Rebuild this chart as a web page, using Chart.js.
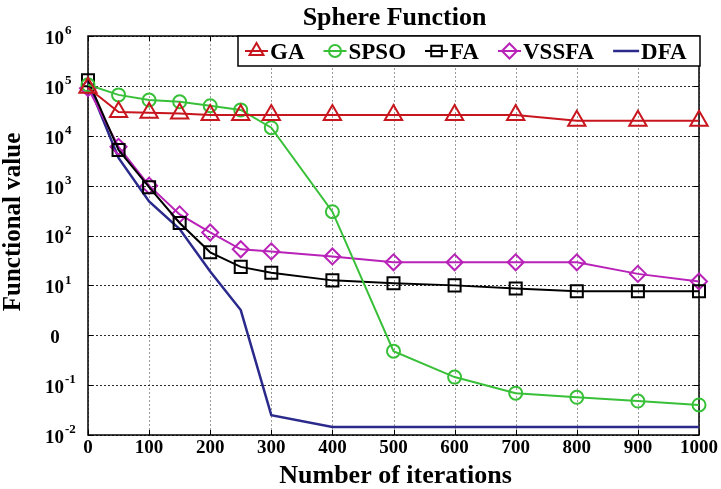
<!DOCTYPE html>
<html>
<head>
<meta charset="utf-8">
<title>Sphere Function</title>
<script src="https://cdn.jsdelivr.net/npm/chart.js@4.4.1/dist/chart.umd.min.js"></script>
<style>
  html, body { margin: 0; padding: 0; background: #fff; }
  #wrap { width: 721px; height: 489px; }
</style>
</head>
<body>
<div id="wrap"><canvas id="sphereChart" width="721" height="489"></canvas></div>
<script>
// Valores (escala log)
const iterations = [0, 50, 100, 150, 200, 250, 300, 400, 500, 600, 700, 800, 900, 1000];
const gaValues = [9.2e4, 3.0e4, 2.9e4, 2.8e4, 2.6e4, 2.6e4, 2.6e4, 2.6e4, 2.6e4, 2.6e4, 2.6e4, 2.0e4, 2.0e4, 2.0e4];
const spsoValues = [1.05e5, 6.6e4, 5.2e4, 4.8e4, 4.0e4, 3.3e4, 1.45e4, 300, 0.48, 0.145, 0.069, 0.057, 0.048, 0.04];
const faValues = [1.3e5, 5200, 930, 178, 46, 23.5, 18, 12.6, 11, 10, 8.7, 7.6, 7.6, 7.6];
const vssfaValues = [9.0e4, 6000, 1000, 265, 115, 53, 48, 38, 29, 29, 29, 29, 17, 12];
const dfaValues = [1.15e5, 3600, 480, 135, 19, 3.2, 0.025, 0.0145, 0.0145, 0.0145, 0.0145, 0.0145, 0.0145, 0.0145];

const seriesNames = ["GA", "SPSO", "FA", "VSSFA", "DFA"];
const yTickValues = [1e-2, 1e-1, 1, 10, 100, 1e3, 1e4, 1e5, 1e6];
const yTickBase = ["10", "10", "0", "10", "10", "10", "10", "10", "10"];
const yTickExp = ["-2", "-1", "", "1", "2", "3", "4", "5", "6"];

const FONT = "'Liberation Serif', 'Times New Roman', serif";

function toPoints(values) {
  return iterations.map((it, i) => ({ x: it, y: values[i] }));
}

const styles = [
  { color: "#c8161e", point: "triangle", radius: 10, legendRadius: 8 },
  { color: "#38c038", point: "circle", radius: 6.5, legendRadius: 6 },
  { color: "#000000", point: "rect", radius: 8.5, legendRadius: 7.5 },
  { color: "#b822b8", point: "rectRot", radius: 8, legendRadius: 7.5 },
  { color: "#2b2a8c", point: false, radius: 0, legendRadius: 0 },
];
const allValues = [gaValues, spsoValues, faValues, vssfaValues, dfaValues];

const datasets = allValues.map((vals, i) => ({
  label: seriesNames[i],
  data: toPoints(vals),
  borderColor: styles[i].color,
  borderWidth: i === 4 ? 2.5 : 2,
  pointStyle: styles[i].point,
  pointRadius: styles[i].radius,
  pointBorderColor: styles[i].color,
  pointBackgroundColor: "rgba(0,0,0,0)",
  pointBorderWidth: 2,
  tension: 0,
  clip: false,
}));

// Grade pontilhada, caixa, rótulos do eixo y, títulos e legenda
const decorations = {
  id: "decorations",
  beforeDatasetsDraw(chart) {
    const { ctx, chartArea: a, scales: { x, y } } = chart;
    ctx.save();
    ctx.lineWidth = 1;
    ctx.setLineDash([2, 2]);
    ctx.strokeStyle = "#9a9a9a";
    x.ticks.forEach((t) => {
      const px = Math.round(x.getPixelForValue(t.value)) + 0.5;
      ctx.beginPath();
      ctx.moveTo(px, a.top); ctx.lineTo(px, a.bottom);
      ctx.stroke();
    });
    ctx.strokeStyle = "#2a2a2a";
    yTickValues.forEach((v) => {
      const py = Math.round(y.getPixelForValue(v)) + 0.5;
      ctx.beginPath();
      ctx.moveTo(a.left, py); ctx.lineTo(a.right, py);
      ctx.stroke();
    });
    ctx.setLineDash([]);

    ctx.strokeStyle = "#000";
    ctx.lineWidth = 1.5;
    ctx.strokeRect(a.left, a.top, a.right - a.left, a.bottom - a.top);
    ctx.lineWidth = 1;
    yTickValues.forEach((v) => {
      const py = Math.round(y.getPixelForValue(v)) + 0.5;
      ctx.beginPath();
      ctx.moveTo(a.left, py); ctx.lineTo(a.left + 5, py);
      ctx.moveTo(a.right, py); ctx.lineTo(a.right - 5, py);
      ctx.stroke();
    });
    x.ticks.forEach((t) => {
      const px = Math.round(x.getPixelForValue(t.value)) + 0.5;
      ctx.beginPath();
      ctx.moveTo(px, a.bottom); ctx.lineTo(px, a.bottom - 5);
      ctx.moveTo(px, a.top); ctx.lineTo(px, a.top + 5);
      ctx.stroke();
    });
    ctx.restore();
  },
  afterDraw(chart) {
    const { ctx, chartArea: a, scales: { y } } = chart;
    ctx.save();
    ctx.fillStyle = "#000";

    // rótulos do eixo y (10 com expoente)
    ctx.textBaseline = "middle";
    yTickValues.forEach((v, i) => {
      const py = y.getPixelForValue(v);
      if (!yTickExp[i]) {
        ctx.font = "bold 19px " + FONT;
        ctx.textAlign = "center";
        ctx.fillText(yTickBase[i], 55, py + 3);
        return;
      }
      ctx.font = "bold 19px " + FONT;
      ctx.textAlign = "left";
      ctx.fillText(yTickBase[i], 45, py + 3);
      const w = ctx.measureText(yTickBase[i]).width;
      ctx.font = "bold 13px " + FONT;
      ctx.fillText(yTickExp[i], 45 + w + 1, py - 5);
    });

    // título
    const cx = (a.left + a.right) / 2;
    ctx.textAlign = "center";
    ctx.textBaseline = "alphabetic";
    ctx.font = "bold 26px " + FONT;
    ctx.fillText("Sphere Function", cx + 1, 25);

    // título do eixo x
    ctx.font = "bold 26px " + FONT;
    ctx.fillText("Number of iterations", cx + 2, 483);

    // título do eixo y
    ctx.save();
    ctx.translate(14, 222);
    ctx.rotate(-Math.PI / 2);
    ctx.textBaseline = "middle";
    ctx.font = "bold 25px " + FONT;
    ctx.fillText("Functional value", 0, 0);
    ctx.restore();

    // legenda
    const boxL = 238, boxT = a.top, boxR = a.right + 1, boxB = 66;
    ctx.fillStyle = "#fff";
    ctx.fillRect(boxL, boxT, boxR - boxL, boxB - boxT);
    ctx.strokeStyle = "#000";
    ctx.lineWidth = 1.5;
    ctx.strokeRect(boxL, boxT, boxR - boxL, boxB - boxT);

    const midY = 51;
    let px = 245;
    ctx.font = "bold 23px " + FONT;
    ctx.textAlign = "left";
    ctx.textBaseline = "alphabetic";
    chart.data.datasets.forEach((ds, i) => {
      const lineLen = i === 4 ? 26 : 23;
      ctx.strokeStyle = styles[i].color;
      ctx.lineWidth = i === 4 ? 2.5 : 2;
      ctx.beginPath();
      ctx.moveTo(px, midY); ctx.lineTo(px + lineLen, midY);
      ctx.stroke();
      if (styles[i].point && Chart.helpers && Chart.helpers.drawPoint) {
        ctx.fillStyle = "rgba(0,0,0,0)";
        Chart.helpers.drawPoint(ctx, {
          pointStyle: styles[i].point,
          radius: styles[i].legendRadius,
          rotation: 0,
          borderWidth: 2,
        }, px + lineLen / 2, midY);
      }
      ctx.fillStyle = "#000";
      ctx.fillText(ds.label, px + lineLen + 2, 59);
      px += lineLen + 2 + ctx.measureText(ds.label).width + 19;
    });
    ctx.restore();
  },
};

new Chart(document.getElementById("sphereChart").getContext("2d"), {
  type: "line",
  data: { datasets: datasets },
  options: {
    responsive: false,
    animation: false,
    devicePixelRatio: 1,
    layout: { padding: { top: 36, left: 88, right: 22, bottom: 0 } },
    plugins: { legend: { display: false }, title: { display: false }, tooltip: { enabled: false } },
    scales: {
      x: {
        type: "linear",
        min: 0,
        max: 1000,
        afterFit: (s) => { s.height = 54; },
        ticks: {
          stepSize: 100,
          color: "#000",
          padding: 2,
          maxRotation: 0,
          font: { family: FONT, size: 19, weight: "bold" },
          callback: (v) => String(v),
        },
        grid: { display: false, drawTicks: false },
        border: { display: false },
      },
      y: {
        type: "logarithmic",
        min: 1e-2,
        max: 1e6,
        afterBuildTicks: (s) => { s.ticks = yTickValues.map((v) => ({ value: v })); },
        afterFit: (s) => { s.width = 0; },
        ticks: { display: false },
        grid: { display: false, drawTicks: false },
        border: { display: false },
      },
    },
  },
  plugins: [decorations],
});
</script>
</body>
</html>
